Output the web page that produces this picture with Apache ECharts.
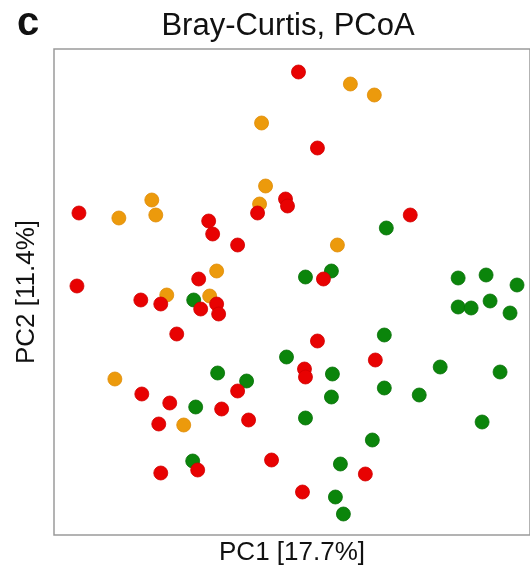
<!DOCTYPE html>
<html><head><meta charset="utf-8">
<script src="https://cdn.jsdelivr.net/npm/echarts@6/dist/echarts.min.js"></script>
<style>html,body{margin:0;padding:0;background:#fff}#c{width:530px;height:571px}</style>
</head><body><div id="c"></div>
<script>
// PC1 / PC2 scores (arbitrary units)
const redX = [25,23,245,264,232,234,357,204,155,159,184,145,270,87,107,147,163,165,123,88,116,184,168,105,195,144,107,218,264,322,251,252,312,249];
const redY = [322,249,463,387,336,329,320,322,314,301,290,256,256,235,231,226,231,221,201,141,132,144,126,111,115,65,62,75,194,175,166,158,61,43];
const orangeX = [208,212,206,65,98,102,163,297,321,284,113,156,61,130];
const orangeY = [412,349,331,317,335,320,264,451,440,290,240,239,156,110];
const greenX = [333,252,278,405,433,464,405,418,437,457,331,233,279,387,447,331,278,366,252,429,319,287,282,290,140,164,193,142,139];
const greenY = [307,258,264,257,260,250,228,227,234,222,200,178,161,168,163,147,138,140,117,113,95,71,38,21,235,162,154,128,74];
const xName = 'PC1 [17.7%]';
const yName = 'PC2 [11.4%]';
const titleText = 'Bray-Curtis, PCoA';
const panelLabel = 'c';

const zip = (xs, ys) => xs.map((v, i) => [v, ys[i]]);
const font = '"Liberation Sans", Arial, sans-serif';
const chart = echarts.init(document.getElementById('c'), null, {renderer: 'canvas'});
const mk = (name, xs, ys, color, edge) => ({
  name, type: 'scatter', data: zip(xs, ys), symbolSize: 14,
  itemStyle: {color, opacity: 1, borderColor: edge, borderWidth: 0.8}, emphasis: {disabled: true}, animation: false
});
chart.setOption({
  animation: false,
  grid: {left: 54, top: 49, right: -1, bottom: 36, show: true, borderColor: '#9a9a9a', borderWidth: 1.5, backgroundColor: '#fff'},
  xAxis: {type: 'value', min: 0, max: 477, axisLine: {show: false}, axisTick: {show: false}, axisLabel: {show: false}, splitLine: {show: false},
    name: xName, nameLocation: 'middle', nameGap: 5, nameTextStyle: {fontFamily: font, fontSize: 26, color: '#111', verticalAlign: 'top'}},
  yAxis: {type: 'value', min: 0, max: 486, axisLine: {show: false}, axisTick: {show: false}, axisLabel: {show: false}, splitLine: {show: false},
    name: yName, nameLocation: 'middle', nameGap: 14, nameRotate: 90, nameTextStyle: {fontFamily: font, fontSize: 26, color: '#111'}},
  graphic: [
    {type: 'text', left: 17, top: 4, style: {text: panelLabel, font: 'bold 40px ' + font, fill: '#111'}},
    {type: 'text', x: 288, y: 26, style: {text: titleText, font: '31px ' + font, fill: '#111', textAlign: 'center', textVerticalAlign: 'middle'}}
  ],
  series: [
    mk('orange', orangeX, orangeY, '#ec9a0c', '#e08c06'),
    mk('green', greenX, greenY, '#0b850b', '#087008'),
    mk('red', redX, redY, '#e80202', '#d00000')
  ]
});
</script></body></html>
